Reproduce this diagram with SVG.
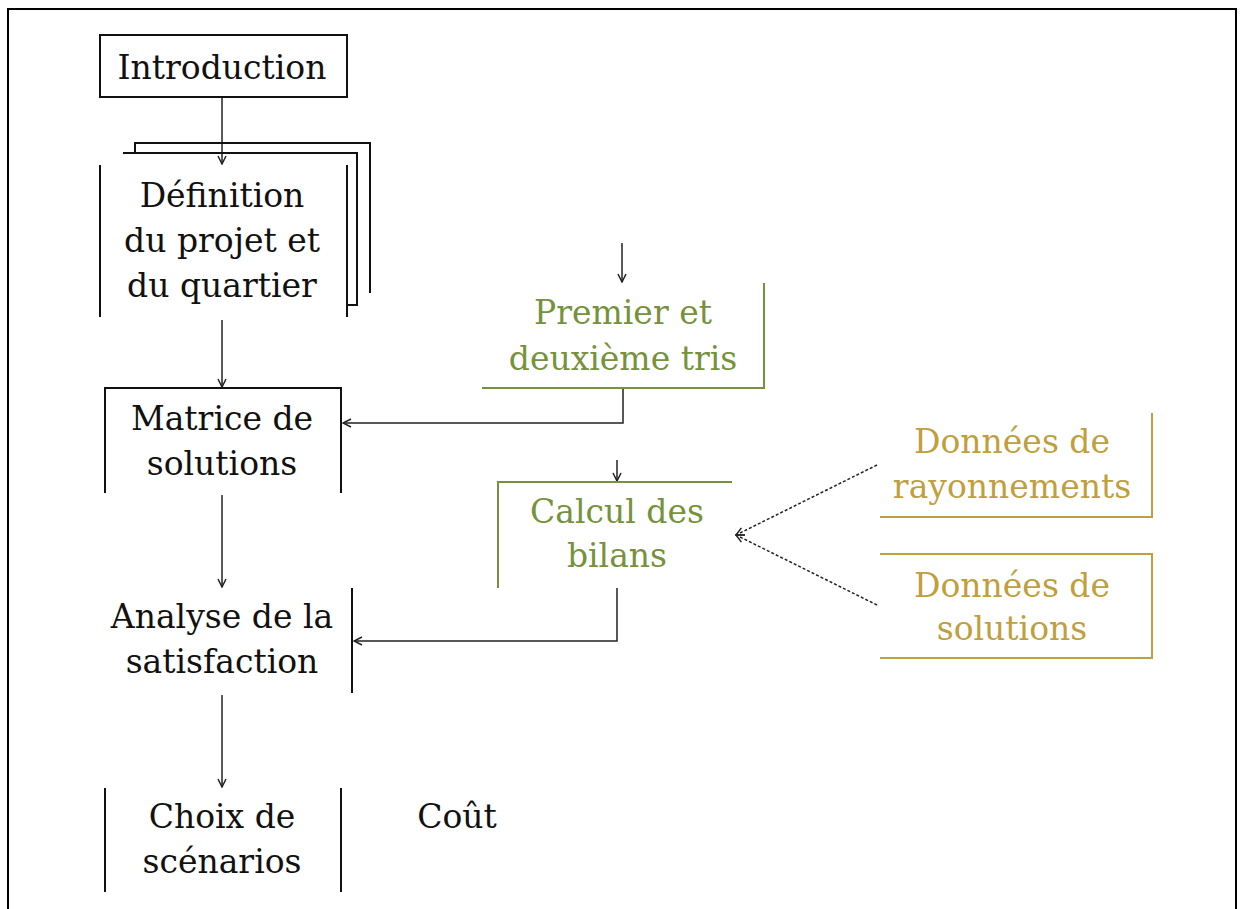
<svg xmlns="http://www.w3.org/2000/svg" width="1240" height="909" viewBox="0 0 1240 909">
<style>
text{font-family:"DejaVu Serif","Liberation Serif",serif;font-size:33px;text-anchor:middle}
.k{fill:#111}
.g{fill:#76923C}
.y{fill:#BFA040}
.lk{stroke:#111;stroke-width:2;fill:none}
.lg{stroke:#76923C;stroke-width:2;fill:none}
.ly{stroke:#BFA040;stroke-width:2;fill:none}
.c{stroke:#222;stroke-width:1.5;fill:none}
.d{stroke:#222;stroke-width:1.5;fill:none;stroke-dasharray:3 2}
</style>
<defs>
<marker id="a" viewBox="0 0 10 10" refX="9" refY="5" markerWidth="10" markerHeight="10" markerUnits="userSpaceOnUse" orient="auto">
<path d="M1,1 L9,5 L1,9" fill="none" stroke="#222" stroke-width="1.5"/>
</marker>
</defs>
<rect x="8" y="9" width="1228" height="910" fill="#fff" stroke="#000" stroke-width="2"/>
<g id="connectors">
<line class="c" x1="222" y1="97" x2="222" y2="164" marker-end="url(#a)"/>
<line class="c" x1="222" y1="320" x2="222" y2="387" marker-end="url(#a)"/>
<line class="c" x1="222" y1="495" x2="222" y2="587" marker-end="url(#a)"/>
<line class="c" x1="222" y1="695" x2="222" y2="787" marker-end="url(#a)"/>
<line class="c" x1="622" y1="243" x2="622" y2="282" marker-end="url(#a)"/>
<polyline class="c" points="623,388 623,423 343,423" marker-end="url(#a)"/>
<line class="c" x1="617" y1="460" x2="617" y2="481" marker-end="url(#a)"/>
<polyline class="c" points="617,588 617,641 354,641" marker-end="url(#a)"/>
<line class="d" x1="877" y1="465" x2="736" y2="535" marker-end="url(#a)"/>
<line class="d" x1="877" y1="605" x2="736" y2="535" marker-end="url(#a)"/>
</g>
<g id="introduction">
<rect class="lk" x="100" y="35" width="247" height="62"/>
<text class="k" x="222" y="79">Introduction</text>
</g>
<g id="definition">
<polyline class="lk" points="135,153 135,143 370,143 370,293"/>
<polyline class="lk" points="123,153 357,153 357,305 347,305"/>
<line class="lk" x1="100" y1="165" x2="100" y2="317"/>
<line class="lk" x1="347" y1="165" x2="347" y2="317"/>
<text class="k" x="222" y="207">Définition</text>
<text class="k" x="222" y="252">du projet et</text>
<text class="k" x="222" y="297">du quartier</text>
</g>
<g id="matrice">
<polyline class="lk" points="105,493 105,388 341,388 341,493"/>
<text class="k" x="222" y="430">Matrice de</text>
<text class="k" x="222" y="475">solutions</text>
</g>
<g id="analyse">
<line class="lk" x1="352" y1="588" x2="352" y2="693"/>
<text class="k" x="222" y="628">Analyse de la</text>
<text class="k" x="222" y="673">satisfaction</text>
</g>
<g id="choix">
<line class="lk" x1="105" y1="788" x2="105" y2="892"/>
<line class="lk" x1="341" y1="788" x2="341" y2="892"/>
<text class="k" x="222" y="828">Choix de</text>
<text class="k" x="222" y="873">scénarios</text>
</g>
<g id="cout">
<text class="k" x="457" y="828">Coût</text>
</g>
<g id="premier">
<polyline class="lg" points="764,283 764,388 482,388"/>
<text class="g" x="623" y="324">Premier et</text>
<text class="g" x="623" y="370">deuxième tris</text>
</g>
<g id="calcul">
<polyline class="lg" points="498,588 498,482 732,482"/>
<text class="g" x="617" y="523">Calcul des</text>
<text class="g" x="617" y="567">bilans</text>
</g>
<g id="rayonnements">
<polyline class="ly" points="1152,413 1152,517 880,517"/>
<text class="y" x="1012" y="453">Données de</text>
<text class="y" x="1012" y="498">rayonnements</text>
</g>
<g id="solutions">
<polyline class="ly" points="880,554 1152,554 1152,658 880,658"/>
<text class="y" x="1012" y="597">Données de</text>
<text class="y" x="1012" y="640">solutions</text>
</g>
</svg>
